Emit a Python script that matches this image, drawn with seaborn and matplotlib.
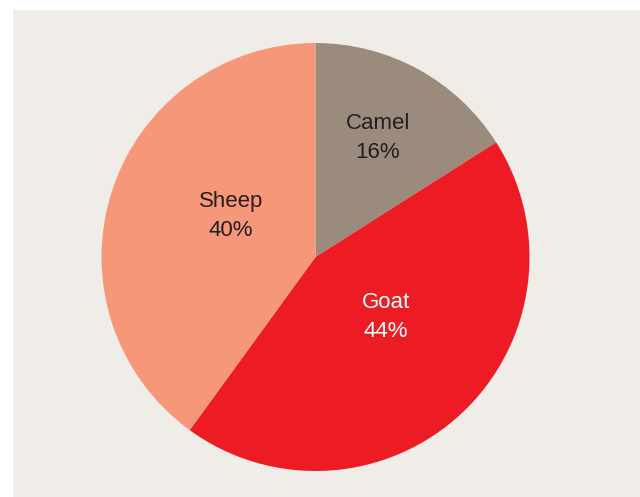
import matplotlib
matplotlib.use("Agg")
import matplotlib.pyplot as plt
import seaborn as sns
from matplotlib.patches import Rectangle

categories = ["Camel", "Goat", "Sheep"]
shares = [16, 44, 40]
colors = ["#9b8b7c", "#ed1c24", "#f7977a"]
text_colors = ["#231f20", "#ffffff", "#231f20"]
label_xy = [(0.292, 0.556), (0.329, -0.280), (-0.395, 0.192)]

sns.set_theme(style="white")
plt.rcParams["font.family"] = ["Liberation Sans", "DejaVu Sans"]

fig = plt.figure(figsize=(6.4, 4.97), dpi=100, facecolor="white")
bg = Rectangle((13 / 640, 0), 1 - 13 / 640, 487 / 497,
               transform=fig.transFigure, facecolor="#f0ede8",
               edgecolor="none", zorder=-10)
fig.add_artist(bg)

ax = fig.add_axes([101.5 / 640, 26 / 497, 428 / 640, 428 / 497], zorder=1)
ax.set_facecolor("none")
ax.patch.set_alpha(0)
wedges, _ = ax.pie(shares, colors=colors, startangle=90, counterclock=False,
                   radius=1, wedgeprops=dict(linewidth=0))
for cat, val, (x, y), tc in zip(categories, shares, label_xy, text_colors):
    ax.text(x, y, f"{cat}\n{val}%", ha="center", va="center", fontsize=16,
            color=tc, linespacing=1.45)
ax.set_xlim(-1, 1)
ax.set_ylim(-1, 1)
ax.set_aspect("equal")
ax.axis("off")

fig.savefig("out.png", dpi=100, facecolor="white")
